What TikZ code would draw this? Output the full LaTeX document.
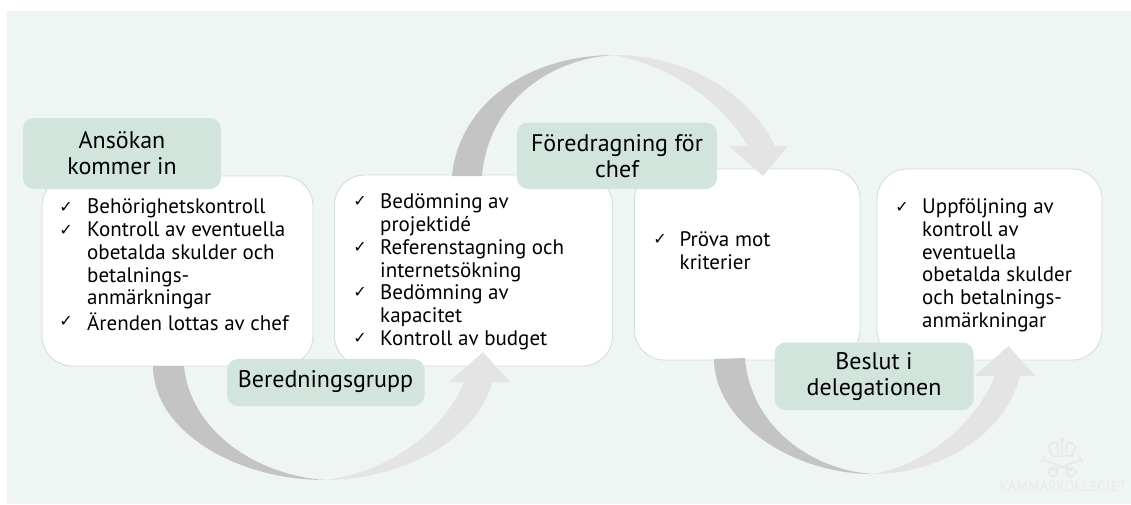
\documentclass[tikz,border=0pt]{standalone}
\usepackage{fontspec}
\setmainfont{PT Sans}
\newfontfamily\symf{DejaVu Sans}
\definecolor{bgc}{HTML}{EFF5F3}
\definecolor{labc}{HTML}{D2E5DC}
\definecolor{edgec}{HTML}{CDE2DA}
\definecolor{darkarc}{HTML}{C4C4C4}
\definecolor{lightarc}{HTML}{E4E4E4}
\definecolor{wm}{HTML}{E7ECEB}
\tikzset{
  card/.style={draw=edgec,line width=0.9pt,fill=white,rounded corners=30pt},
  tag/.style={fill=labc,rounded corners=11pt},
  tagtext/.style={align=center,font=\fontsize{24}{26}\selectfont,text=black,inner sep=0pt},
  item/.style={anchor=north west,align=left,inner sep=0pt,yshift=-2.5pt,font=\fontsize{21}{22.8}\selectfont,text=black},
  chk/.style={anchor=center,inner sep=0pt,font=\symf\fontsize{16}{16}\selectfont,text=black},
  arcd/.style={fill=darkarc},
  arcl/.style={fill=lightarc},
}
\begin{document}
\begin{tikzpicture}[x=1pt,y=-1pt]
\useasboundingbox (0,0) rectangle (1131,504);
\fill[bgc] (7,11) rectangle (1131,504);
% cards
\draw[card] (42,176) rectangle (313,366);
\draw[card] (334.5,175) rectangle (612.5,366);
\draw[card] (634.5,169) rectangle (860,360);
\draw[card] (877,169) rectangle (1102,360);
% arrow 1
\fill[arcd] (153,366) .. controls (153,430) and (235,480) .. (325,480) .. controls (255,475) and (190,430) .. (184,366) -- cycle;
\fill[arcl] (325,480) .. controls (400,480) and (478,440) .. (492,382) -- (510,382) -- (483,352) -- (449,382) -- (464,382) .. controls (445,430) and (390,472) .. (325,480) -- cycle;
% arrow 2
\fill[arcd] (452,176) .. controls (458,110) and (520,56) .. (613,55) .. controls (545,60) and (488,105) .. (482,176) -- cycle;
\fill[arcl] (613,55) .. controls (690,55) and (750,95) .. (775,146) -- (788,146) -- (763,176) -- (729,146) -- (748,146) .. controls (720,100) and (670,65) .. (613,55) -- cycle;
% arrow 3
\fill[arcd] (714,359) .. controls (714,420) and (790,474) .. (873,474) .. controls (810,470) and (750,425) .. (745,358) -- cycle;
\fill[arcl] (873,474) .. controls (940,474) and (1005,435) .. (1020,376) -- (1035.5,376) -- (1008.5,346) -- (974.5,376) -- (995,376) .. controls (975,425) and (925,465) .. (873,474) -- cycle;
% tags
\fill[tag] (23,118) rectangle (221,189);
\fill[tag] (227,359) rectangle (424.5,406);
\fill[tag] (517,122.5) rectangle (717,189);
\fill[tag] (774.5,342.5) rectangle (973.5,410);
\node[tagtext] (t1) at (122,153.5) {Ansökan\\kommer in};
\node[tagtext] (t2) at (325.5,382) {Beredningsgrupp};
\node[tagtext] (t3) at (617,156) {Föredragning för\\chef};
\node[tagtext] (t4) at (874,376.5) {Beslut i\\delegationen};
% lists
\node[item] (a1) at (87,196) {Behörighetskontroll};
\node[item] (a2) at (87,219) {Kontroll av eventuella\\obetalda skulder och\\betalnings-\\anmärkningar};
\node[item] (a3) at (87,310) {Ärenden lottas av chef};
\node[chk] at (66,207) {✓}; \node[chk] at (66,230) {✓}; \node[chk] at (66,321) {✓};
\node[item] (b1) at (380,191) {Bedömning av\\projektidé};
\node[item] (b2) at (380,237) {Referenstagning och\\internetsökning};
\node[item] (b3) at (380,282) {Bedömning av\\kapacitet};
\node[item] (b4) at (380,328) {Kontroll av budget};
\node[chk] at (360,201) {✓}; \node[chk] at (360,247) {✓}; \node[chk] at (360,292) {✓}; \node[chk] at (360,338) {✓};
\node[item] (c1) at (679.5,229) {Pröva mot\\kriterier};
\node[chk] at (660,239) {✓};
\node[item] (d1) at (922,196) {Uppföljning av\\kontroll av\\eventuella\\obetalda skulder\\och betalnings-\\anmärkningar};
\node[chk] at (902,207) {✓};
% watermark
\begin{scope}[draw=wm,fill=wm]
\draw[line width=2pt] (1052,455) .. controls (1046,445) and (1050,442) .. (1057,443) -- (1058,454);
\draw[line width=2pt] (1072,455) .. controls (1078,445) and (1074,442) .. (1067,443) -- (1066,454);
\draw[line width=2pt] (1062,443) -- (1062,455) (1051,456) -- (1073,456);
\fill (1062,440) circle (2pt);
\draw[line width=2pt] (1043,460) -- (1072,470) (1081,460) -- (1052,470);
\draw[line width=1.6pt] (1041,463) -- (1045,456) (1083,463) -- (1079,456);
\draw[line width=2pt,fill=none] (1053,472) circle (4.5pt) (1071,472) circle (4.5pt);
\node[inner sep=0pt,font=\fontsize{14.5}{15}\selectfont,text=wm] (wmt) at (1063,486) {KAMMARKOLLEGIET};
\end{scope}
\end{tikzpicture}
\end{document}
